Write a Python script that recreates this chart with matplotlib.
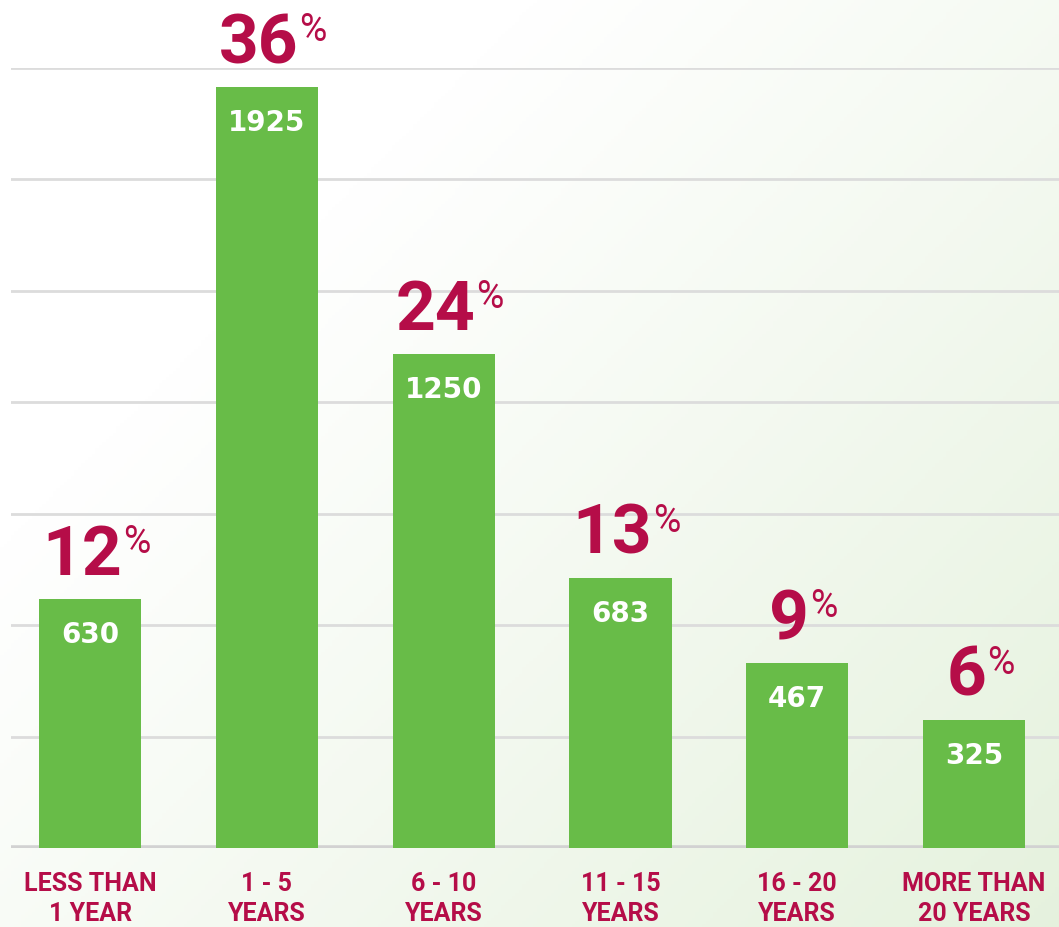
import numpy as np
import matplotlib.pyplot as plt
from matplotlib.colors import LinearSegmentedColormap

categories = ["LESS THAN\n1 YEAR", "1 - 5\nYEARS", "6 - 10\nYEARS",
              "11 - 15\nYEARS", "16 - 20\nYEARS", "MORE THAN\n20 YEARS"]
counts = [630, 1925, 1250, 683, 467, 325]
percents = [12, 36, 24, 13, 9, 6]

GREEN = "#68bc48"
CRIMSON = "#b50d48"
FONT = ["Roboto", "DejaVu Sans"]

fig = plt.figure(figsize=(10.59, 9.27), dpi=100)

# soft green gradient background
bg = fig.add_axes([0, 0, 1, 1], zorder=0)
xx, yy = np.meshgrid(np.linspace(0, 1, 300), np.linspace(1, 0, 300))
t = np.clip(0.7 * xx + 0.6 * (1 - yy) - 0.35, 0, 1)
cmap = LinearSegmentedColormap.from_list("bg", ["#ffffff", "#e4f1dc"])
bg.imshow(t, cmap=cmap, aspect="auto", extent=[0, 1, 0, 1], vmin=0, vmax=1)
bg.axis("off")

ax = fig.add_axes([11 / 1059, 79 / 927, 1048 / 1059, 780 / 927], zorder=1)
ax.patch.set_alpha(0)

ymax = 1925 * 780 / 761
x = np.arange(len(categories))
bars = ax.bar(x, counts, 0.577, color=GREEN, zorder=3)

for yv in np.linspace(0, ymax, 8)[1:]:
    ax.axhline(yv, color="#dcdcdc", lw=2, zorder=1)
ax.axhline(0, color="#d2d2d2", lw=4, zorder=2)

ax.set_xlim(-0.447, 5.48)
ax.set_ylim(0, ymax)
ax.axis("off")

px = ymax / 780.0
dx = 1 / 176.8
fig.canvas.draw()
renderer = fig.canvas.get_renderer()
inv = ax.transData.inverted()
for xi, c, p in zip(x, counts, percents):
    ax.text(xi, c - 22 * px, str(c), color="white", fontsize=20,
            fontweight="bold", ha="center", va="top", zorder=4)
    big = ax.text(xi - 8 * dx, c + 24 * px, str(p), color=CRIMSON,
                  fontsize=50, fontweight="bold", ha="center",
                  va="baseline", zorder=4, family=FONT)
    bb = big.get_window_extent(renderer)
    rx, _ = inv.transform((bb.x1, bb.y1))
    ax.text(rx + 1 * dx, c + 24 * px + 51 * px, "%", color=CRIMSON,
            fontsize=27, fontweight="normal", ha="left", va="top", zorder=4,
            family=FONT)

for xi, lab in zip(x, categories):
    ax.text(xi, -24 * px, lab, color=CRIMSON, fontsize=18, fontweight="bold",
            ha="center", va="top", linespacing=1.3, family=FONT)

fig.savefig("out.png", dpi=100)
